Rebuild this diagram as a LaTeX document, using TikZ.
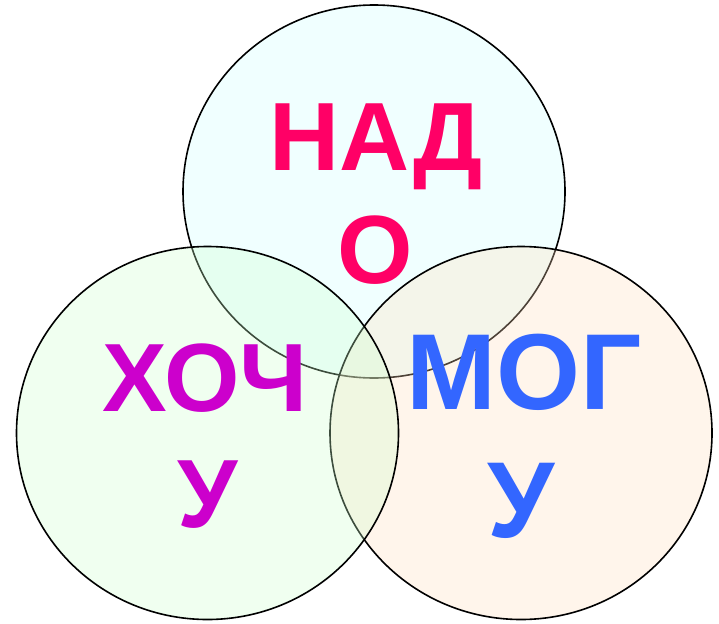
\documentclass[tikz,border=0pt]{standalone}
\usepackage{fontspec}
\setmainfont{Liberation Sans}
\usepackage{tikz}
\usetikzlibrary{positioning}
\definecolor{nadofill}{RGB}{205,255,255}
\definecolor{hochufill}{RGB}{205,255,205}
\definecolor{mogufill}{RGB}{255,221,188}
\definecolor{nadotext}{RGB}{255,0,102}
\definecolor{hochutext}{RGB}{204,0,204}
\definecolor{mogutext}{RGB}{51,102,255}

\begin{document}
\begin{tikzpicture}[x=1pt, y=-1pt,
	venn/.style={draw=black, line width=1.6pt, fill opacity=0.3},
	word/.style={anchor=base, inner sep=0pt, font=\fontsize{97}{97}\selectfont\bfseries},
	bigword/.style={word, font=\fontsize{108}{108}\selectfont\bfseries}]
						\useasboundingbox (0,0) rectangle (719,623);
						
						\filldraw[venn, fill=nadofill]  (374,191.5) ellipse [x radius=191, y radius=186.5];
						\filldraw[venn, fill=mogufill]  (521,433)   ellipse [x radius=191, y radius=186.5];
						\filldraw[venn, fill=hochufill] (207.5,433) ellipse [x radius=191, y radius=186.5];
						
						\node[word, text=nadotext]     (nado1)  at (376,170) {НАД};
						\node[word, text=nadotext]     (nado2)  at (375,283) {О};
						\node[word, text=hochutext]    (hochu1) at (205,411) {ХОЧ};
						\node[word, text=hochutext]    (hochu2) at (207.5,527) {У};
						\node[bigword, text=mogutext]  (mogu1)  at (524,409) {МОГ};
						\node[bigword, text=mogutext]  (mogu2)  at (521,537) {У};
\end{tikzpicture}
\end{document}
